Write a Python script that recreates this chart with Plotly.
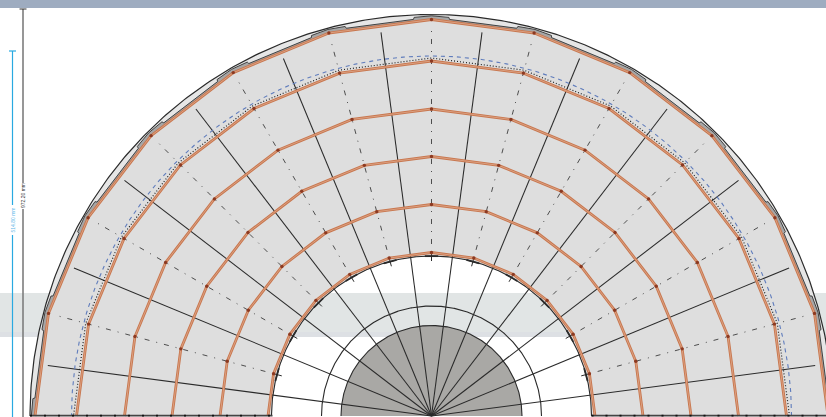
import numpy as np
import plotly.graph_objects as go

# geometry (radii in picture units around the hub)
ring_radii = [396.5, 355, 307, 259.5, 211.5, 163.5]
ring_angles = list(range(0, 181, 15))
spoke_angles = [7.5 + 15 * k for k in range(12)]
spoke_radius = 387
axis_angles = [15, 30, 45, 60, 75, 90, 105, 120, 135, 150, 165]
axis_r_in, axis_r_out = 172, 386
outer_arc_r = 401.5
hole_arc_r = 160
blue_arc_r = 360
dotted_ring_r = 358
disk_r = 90.5
circle_r = 110
dim_labels = ["972.20 mm", "514.80 mm"]

CX, CY = 431.5, 416
XR = [-CX, 826 - CX]
YR = [-1, 416]

C_FILL = "#dedede"
C_ORANGE = "#c8774f"
C_ORANGE_L = "#dfa98d"
C_DARK = "#2a2a2a"


def pol(r, deg):
    a = np.radians(np.asarray(deg, dtype=float))
    return np.asarray(r) * np.cos(a), np.asarray(r) * np.sin(a)


arc_deg = np.linspace(0, 180, 361)
traces = []


def line(x, y, color=C_DARK, width=1.0, dash=None, fill=None, fillcolor=None):
    traces.append(go.Scatter(
        x=list(x), y=list(y), mode="lines",
        line=dict(color=color, width=width, dash=dash),
        fill=fill, fillcolor=fillcolor, hoverinfo="skip", showlegend=False))


def band(outer_x, outer_y, inner_x, inner_y, color):
    x = list(outer_x) + list(inner_x)[::-1]
    y = list(outer_y) + list(inner_y)[::-1]
    traces.append(go.Scatter(x=x, y=y, mode="lines", line=dict(width=0),
                             fill="toself", fillcolor=color,
                             hoverinfo="skip", showlegend=False))


# hub disk and circle
dx, dy = pol(disk_r, arc_deg)
line(dx, dy, C_DARK, 1.1, fill="toself", fillcolor="#a9a8a5")
cx, cy = pol(circle_r, arc_deg)
line(cx, cy, C_DARK, 1.1)

# shell and main fill
ox, oy = pol(outer_arc_r, arc_deg)
hx, hy = pol(hole_arc_r, arc_deg)
band(ox, oy, hx, hy, "#e6e6e6")

shell_a, shell_r = [], []
for k in range(12):
    a = 15 * k
    shell_a += [a, a + 2.5, a + 2.6, a + 12.4, a + 12.5]
    shell_r += [400.2, 399.0, 397.0, 397.0, 399.0]
shell_a.append(180)
shell_r.append(400.2)
sx, sy = pol(np.array(shell_r), shell_a)
band(sx, sy, hx, hy, "#a6a6a6")

rx, ry = pol(ring_radii[0], ring_angles)
band(rx, ry, hx, hy, C_FILL)

# spokes
for a in spoke_angles:
    x, y = pol(np.array([0, spoke_radius]), [a, a])
    line(x, y, C_DARK, 1.05)

# dash-dot axes
for a in axis_angles:
    x, y = pol(np.array([axis_r_in, axis_r_out]), [a, a])
    line(x, y, "#444444", 0.95, dash="5px,7px,1px,7px")

# shell outlines
line(ox, oy, C_DARK, 1.2)
line(sx, sy, "#333333", 0.9)
line(hx, hy, C_DARK, 1.1)

# blue dashed arc and dotted ring
bx, by = pol(blue_arc_r, arc_deg)
line(bx, by, "#5f7cbc", 1.1, dash="4px,4px")
ddx, ddy = pol(dotted_ring_r, ring_angles)
line(ddx, ddy, "#222222", 1.2, dash="1px,2px")

# inner ticks
for a in axis_angles:
    x, y = pol(np.array([155, 164]), [a, a])
    line(x, y, C_DARK, 1.0)
    x, y = pol(np.array([160, 160]), [a - 2.4, a + 2.4])
    line(x, y, C_DARK, 1.8)

# orange rings
for r in ring_radii:
    x, y = pol(r, ring_angles)
    line(x, y, C_ORANGE, 2.8)
    line(x, y, C_ORANGE_L, 0.8)
    traces.append(go.Scatter(x=x[1:-1], y=y[1:-1], mode="markers",
                             marker=dict(size=3.4, color="#8c3a22"),
                             hoverinfo="skip", showlegend=False))

# floor lines
for x0, x1 in [(-401.5, -159), (160, 394.5)]:
    line([x0, x1], [0.4, 0.4], "#444444", 1.6)
    line([x0, x1], [0.4, 0.4], "#111111", 1.6, dash="2px,12px")

# dimension lines (in picture coordinates)
dim_dark_x = 23 - CX
dim_blue_x = 12.5 - CX
def Y(p):
    return CY - p
line([dim_dark_x] * 2, [Y(9), Y(183)], "#7d7d7d", 1.6)
line([dim_dark_x] * 2, [Y(209), Y(417)], "#7d7d7d", 1.6)
line([dim_dark_x - 3.5, dim_dark_x + 3.5], [Y(9), Y(9)], "#333333", 1.0)
line([dim_blue_x] * 2, [Y(51), Y(205)], "#29a9e1", 1.2)
line([dim_blue_x] * 2, [Y(235), Y(417)], "#29a9e1", 1.2)
line([dim_blue_x - 3.5, dim_blue_x + 3.5], [Y(51), Y(51)], "#29a9e1", 1.2)

fig = go.Figure(traces)
fig.add_annotation(x=dim_dark_x, y=Y(196), text=dim_labels[0], showarrow=False,
                   textangle=-90, font=dict(size=5, color="#333333", family="Liberation Sans"))
fig.add_annotation(x=dim_blue_x, y=Y(220), text=dim_labels[1], showarrow=False,
                   textangle=-90, font=dict(size=5, color="#5fb8e8", family="Liberation Sans"))

fig.update_layout(
    width=826, height=417, autosize=False,
    margin=dict(l=0, r=0, t=0, b=0),
    paper_bgcolor="white", plot_bgcolor="white", showlegend=False,
    xaxis=dict(range=XR, visible=False, fixedrange=True),
    yaxis=dict(range=YR, visible=False, fixedrange=True),
    shapes=[
        dict(type="rect", xref="paper", yref="y", x0=0, x1=1, y0=Y(337), y1=Y(293),
             fillcolor="#e1e5e5", line_width=0, layer="below"),
        dict(type="rect", xref="paper", yref="y", x0=0, x1=1, y0=Y(337), y1=Y(332),
             fillcolor="#dde0e4", line_width=0, layer="below"),
        dict(type="rect", xref="paper", yref="y", x0=0, x1=1, y0=Y(8), y1=Y(0),
             fillcolor="#9eacc0", line_width=0, layer="below"),
    ],
)
fig.write_html("out.html", config=dict(displayModeBar=False),
               post_script="document.body.style.margin='0';document.documentElement.style.overflow='hidden';")
